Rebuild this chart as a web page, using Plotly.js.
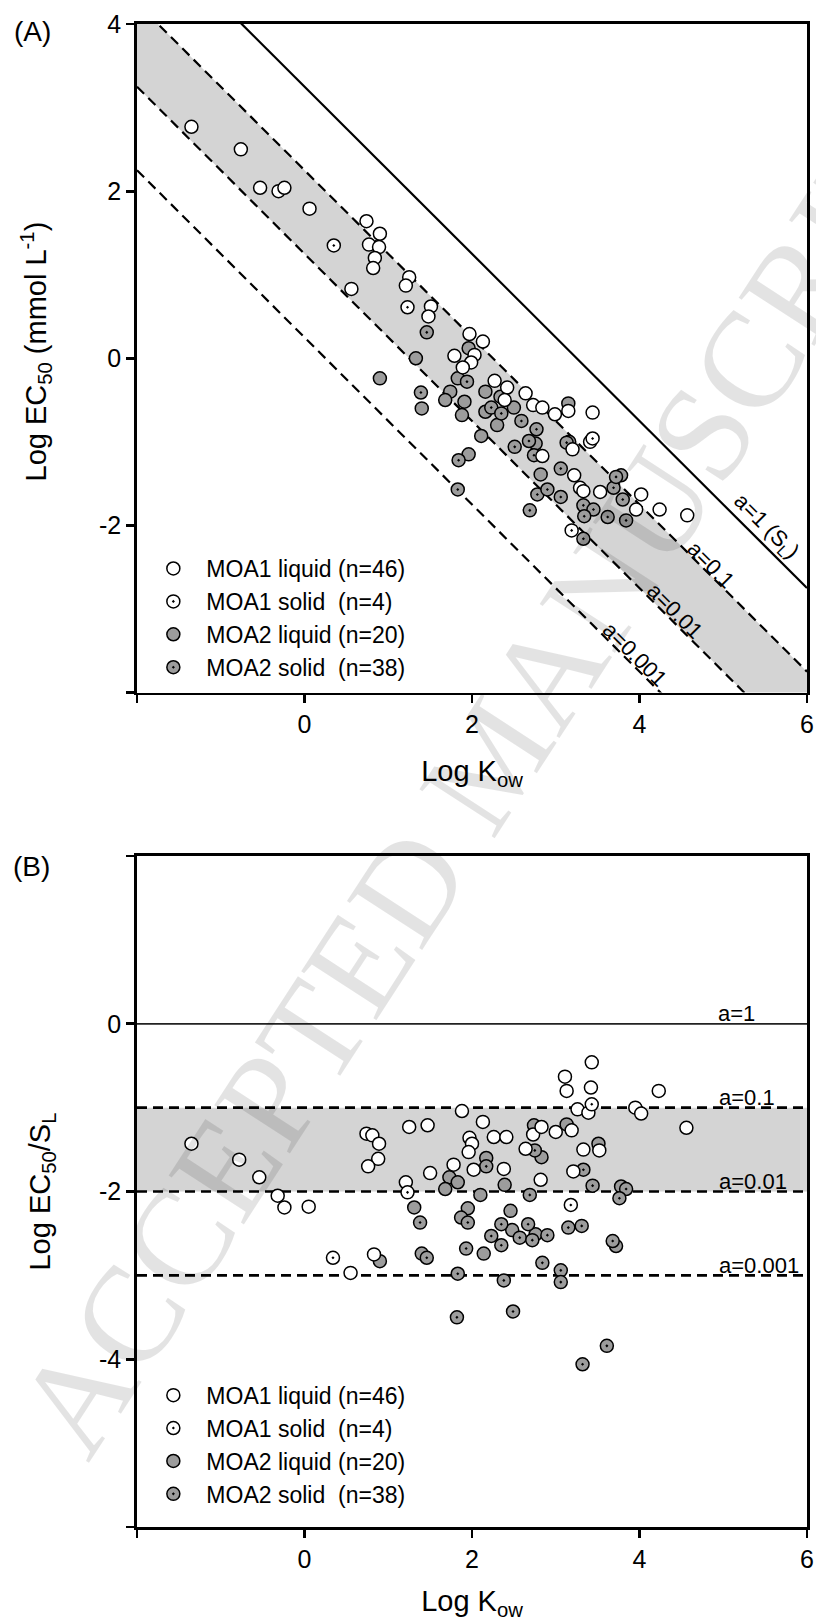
<!DOCTYPE html>
<html>
<head>
<meta charset="utf-8">
<script src="https://cdn.plot.ly/plotly-3.0.1.min.js"></script>
<style>html,body{margin:0;padding:0;background:#fff;}</style>
</head>
<body>
<div id="chart" style="width:816px;height:1621px;"></div>
<script>
// ---------------- Panel A data: Log EC50 (mmol/L) vs Log Kow ----------------
const moa1LiqA_x = [-1.35,-0.76,-0.53,-0.31,-0.24,0.06,0.74,0.90,0.77,0.89,0.84,0.82,0.56,1.25,1.21,1.51,1.48,1.97,2.13,1.79,2.03,1.99,1.89,2.27,2.42,2.39,2.64,2.73,2.84,2.99,3.15,3.44,3.20,3.41,2.84,3.22,3.29,3.33,3.53,4.02,3.96,4.24,4.57];
const moa1LiqA_y = [2.77,2.50,2.04,2.00,2.04,1.79,1.64,1.49,1.36,1.33,1.20,1.08,0.83,0.97,0.87,0.62,0.50,0.29,0.20,0.03,0.04,-0.05,-0.11,-0.27,-0.35,-0.50,-0.42,-0.56,-0.59,-0.67,-0.63,-0.65,-1.09,-1.00,-1.17,-1.40,-1.55,-1.59,-1.60,-1.63,-1.81,-1.81,-1.88];
const moa1SolA_x = [0.35,1.23,3.44,3.19];
const moa1SolA_y = [1.35,0.61,-0.96,-2.06];
const moa2LiqA_x = [1.33,0.90,1.40,1.96,1.83,1.74,1.68,1.91,1.88,2.11,1.96,2.16,2.34,2.16,2.50,2.30,3.15,2.76,2.82,3.16,3.78];
const moa2LiqA_y = [0.00,-0.24,-0.60,0.12,-0.24,-0.40,-0.50,-0.52,-0.68,-0.93,-1.15,-0.40,-0.46,-0.64,-0.59,-0.80,-0.54,-1.02,-1.39,-1.00,-1.40];
const moa2SolA_x = [1.46,1.39,1.94,1.84,1.83,2.23,2.35,2.59,2.77,2.51,2.68,2.74,3.06,2.78,2.90,3.06,2.69,3.13,3.33,3.45,3.34,3.69,3.72,3.80,3.62,3.84,3.33];
const moa2SolA_y = [0.31,-0.41,-0.28,-1.22,-1.57,-0.59,-0.66,-0.75,-0.85,-1.06,-0.99,-1.16,-1.32,-1.63,-1.57,-1.66,-1.82,-1.01,-1.76,-1.81,-1.89,-1.55,-1.42,-1.69,-1.90,-1.94,-2.16];

// ---------------- Panel B data: Log EC50/SL vs Log Kow ----------------
const moa1LiqB_x = [-1.35,-0.78,-0.54,-0.32,-0.24,0.05,0.74,0.81,0.89,0.88,0.76,1.25,1.21,0.55,0.83,1.47,1.88,2.13,2.26,2.41,1.97,2.00,1.96,1.78,1.50,2.02,2.38,2.64,2.73,2.83,3.43,3.11,3.13,3.42,3.26,3.39,4.23,3.95,4.02,4.56,3.00,3.19,3.52,3.33,3.21,2.82];
const moa1LiqB_y = [-1.43,-1.62,-1.83,-2.05,-2.19,-2.18,-1.31,-1.33,-1.43,-1.61,-1.70,-1.23,-1.89,-2.97,-2.75,-1.21,-1.04,-1.17,-1.35,-1.35,-1.36,-1.43,-1.53,-1.68,-1.78,-1.74,-1.73,-1.49,-1.32,-1.23,-0.46,-0.63,-0.80,-0.76,-1.02,-1.06,-0.80,-1.00,-1.07,-1.24,-1.29,-1.27,-1.51,-1.50,-1.76,-1.86];
const moa1SolB_x = [1.23,0.34,3.43,3.18];
const moa1SolB_y = [-2.01,-2.79,-0.96,-2.16];
const moa2LiqB_x = [0.90,2.17,1.73,1.83,1.68,2.39,2.10,1.31,1.95,1.87,2.46,2.48,1.40,2.14,2.74,3.13,3.51,2.83,3.78,3.72,2.76];
const moa2LiqB_y = [-2.83,-1.60,-1.83,-1.89,-1.97,-1.92,-2.04,-2.19,-2.20,-2.31,-2.23,-2.46,-2.74,-2.74,-1.21,-1.20,-1.43,-1.59,-1.94,-2.65,-2.51];
const moa2SolB_x = [2.17,2.69,1.38,1.95,2.35,2.67,2.23,2.35,2.57,2.72,1.46,1.93,1.83,2.38,1.82,2.49,2.75,3.33,3.44,3.84,3.76,2.90,2.84,3.06,3.06,3.15,3.31,3.68,3.61,3.32];
const moa2SolB_y = [-1.70,-2.04,-2.37,-2.37,-2.39,-2.39,-2.53,-2.64,-2.55,-2.58,-2.79,-2.68,-2.98,-3.06,-3.50,-3.43,-1.51,-1.74,-1.93,-1.97,-2.08,-2.52,-2.85,-2.94,-3.08,-2.43,-2.41,-2.59,-3.84,-4.06];

// ---------------- Reference lines, ticks, labels ----------------
const aLevels = [1, 0.1, 0.01, 0.001];
const aLabelsA = ['a=1 (S<sub>L</sub>)', 'a=0.1', 'a=0.01', 'a=0.001'];
const aLabelsB = ['a=1', 'a=0.1', 'a=0.01', 'a=0.001'];
const logSL_intercept = 3.25;   // log SL (mmol/L) = 3.25 - log Kow
const logSL_slope = -1;
const xRange = [-2, 6];
const yRangeA = [-4, 4];
const yRangeB = [-6, 2];
const xTickVals = [0, 2, 4, 6];
const xTickText = ['0', '2', '4', '6'];
const xMinorTicks = [-2];
const yTickValsA = [-2, 0, 2, 4];
const yTickTextA = ['-2', '0', '2', '4'];
const yMinorTicksA = [-4];
const yTickValsB = [-4, -2, 0];
const yTickTextB = ['-4', '-2', '0'];
const yMinorTicksB = [-6, 2];
const labelPosA_x = [5.51, 4.85, 4.42, 3.95];
const labelPosA_y = [-2.02, -2.47, -3.02, -3.54];
const labelPosB_x = [5.16, 5.28, 5.36, 5.43];
const labelPosB_y = [0.12, -0.88, -1.88, -2.88];
const legendLabels = ['MOA1 liquid (n=46)', 'MOA1 solid\u00A0 (n=4)', 'MOA2 liquid (n=20)', 'MOA2 solid\u00A0 (n=38)'];

const FONT = 'Liberation Sans, Arial, sans-serif';
const GREY = '#9c9c9c';
const BAND = '#d4d4d4';

function lineA(a, x) { return Math.log10(a) + logSL_intercept + logSL_slope * x; }

const traces = [];

// Panel A band between a=0.1 and a=0.01
traces.push({
  x: [xRange[0], xRange[1], xRange[1], xRange[0]],
  y: [lineA(aLevels[1], xRange[0]), lineA(aLevels[1], xRange[1]), lineA(aLevels[2], xRange[1]), lineA(aLevels[2], xRange[0])],
  fill: 'toself', fillcolor: BAND, mode: 'lines', line: {width: 0, color: BAND},
  showlegend: false, hoverinfo: 'skip', xaxis: 'x', yaxis: 'y'
});
// Panel B band
traces.push({
  x: [xRange[0], xRange[1], xRange[1], xRange[0]],
  y: [Math.log10(aLevels[1]), Math.log10(aLevels[1]), Math.log10(aLevels[2]), Math.log10(aLevels[2])],
  fill: 'toself', fillcolor: BAND, mode: 'lines', line: {width: 0, color: BAND},
  showlegend: false, hoverinfo: 'skip', xaxis: 'x2', yaxis: 'y2'
});

aLevels.forEach((a, i) => {
  traces.push({
    x: xRange, y: xRange.map(x => lineA(a, x)), mode: 'lines',
    line: {color: '#000', width: 2.2, dash: i === 0 ? 'solid' : '10px,6px'},
    showlegend: false, hoverinfo: 'skip', xaxis: 'x', yaxis: 'y'
  });
  traces.push({
    x: xRange, y: xRange.map(() => Math.log10(a)), mode: 'lines',
    line: {color: i === 0 ? '#222' : '#000', width: i === 0 ? 1.8 : 2.6, dash: i === 0 ? 'solid' : '10px,6px'},
    showlegend: false, hoverinfo: 'skip', xaxis: 'x2', yaxis: 'y2'
  });
});

function pts(x, y, fill, symbol, name, rank, xa, ya, leg) {
  return {
    x: x, y: y, mode: 'markers', name: name, legendrank: rank,
    marker: {size: 13, color: fill, symbol: symbol, line: {color: '#000', width: 1.5}},
    xaxis: xa, yaxis: ya, legend: leg, showlegend: true, cliponaxis: false
  };
}
// draw grey first, white on top
traces.push(pts(moa2LiqA_x, moa2LiqA_y, GREY, 'circle', legendLabels[2], 3, 'x', 'y', 'legend'));
traces.push(pts(moa2SolA_x, moa2SolA_y, GREY, 'circle-dot', legendLabels[3], 4, 'x', 'y', 'legend'));
traces.push(pts(moa1LiqA_x, moa1LiqA_y, '#fff', 'circle', legendLabels[0], 1, 'x', 'y', 'legend'));
traces.push(pts(moa1SolA_x, moa1SolA_y, '#fff', 'circle-dot', legendLabels[1], 2, 'x', 'y', 'legend'));
traces.push(pts(moa2LiqB_x, moa2LiqB_y, GREY, 'circle', legendLabels[2], 3, 'x2', 'y2', 'legend2'));
traces.push(pts(moa2SolB_x, moa2SolB_y, GREY, 'circle-dot', legendLabels[3], 4, 'x2', 'y2', 'legend2'));
traces.push(pts(moa1LiqB_x, moa1LiqB_y, '#fff', 'circle', legendLabels[0], 1, 'x2', 'y2', 'legend2'));
traces.push(pts(moa1SolB_x, moa1SolB_y, '#fff', 'circle-dot', legendLabels[1], 2, 'x2', 'y2', 'legend2'));

const axBase = {
  showline: true, linewidth: 2.8, linecolor: '#000', mirror: true,
  ticks: 'outside', ticklen: 8, tickwidth: 2.8, tickcolor: '#000',
  showgrid: false, zeroline: false,
  tickfont: {family: FONT, size: 25, color: '#000'}
};
function minorTicks(vals) {
  return {tickvals: vals, ticks: 'outside', ticklen: 8, tickwidth: 2.8, tickcolor: '#000', showgrid: false};
}

const annotations = [];
aLabelsA.forEach((t, i) => annotations.push({
  text: t, x: labelPosA_x[i], y: labelPosA_y[i], xref: 'x', yref: 'y',
  showarrow: false, textangle: 45, xanchor: 'center', yanchor: 'middle',
  font: {family: FONT, size: 22, color: '#000'}
}));
aLabelsB.forEach((t, i) => annotations.push({
  text: t, x: labelPosB_x[i], y: labelPosB_y[i], xref: 'x2', yref: 'y2',
  showarrow: false, xanchor: 'center', yanchor: 'middle',
  font: {family: FONT, size: 22, color: '#000'}
}));
annotations.push({text: '(A)', xref: 'paper', yref: 'paper', x: -0.156, y: 0.995, showarrow: false,
  xanchor: 'center', yanchor: 'middle', font: {family: FONT, size: 28, color: '#000'}});
annotations.push({text: '(B)', xref: 'paper', yref: 'paper', x: -0.158, y: 0.4395, showarrow: false,
  xanchor: 'center', yanchor: 'middle', font: {family: FONT, size: 28, color: '#000'}});
// y-axis title of panel A
annotations.push({text: 'Log EC<sub>50</sub> (mmol L<sup>-1</sup>)', xref: 'paper', yref: 'paper', x: -0.151, y: 0.782,
  showarrow: false, textangle: -90, xanchor: 'center', yanchor: 'middle',
  font: {family: FONT, size: 29, color: '#000'}});
// publisher watermark
annotations.push({text: 'ACCEPTED MANUSCRIPT', xref: 'paper', yref: 'paper', x: 0.531, y: 0.512, showarrow: false,
  textangle: -57, xanchor: 'center', yanchor: 'middle',
  font: {family: 'Liberation Serif, Times New Roman, serif', size: 137, color: 'rgba(0,0,0,0.11)'}});

const legendBase = {
  bgcolor: 'rgba(0,0,0,0)', borderwidth: 0, xanchor: 'left', yanchor: 'top',
  font: {family: FONT, size: 23, color: '#000'}, itemwidth: 56, tracegroupgap: 0,
  traceorder: 'normal'
};

const layout = {
  width: 816, height: 1621,
  margin: {l: 137, r: 9, t: 24, b: 94},
  paper_bgcolor: '#fff', plot_bgcolor: 'rgba(0,0,0,0)',
  showlegend: true,
  xaxis: Object.assign({}, axBase, {domain: [0, 1], range: xRange, anchor: 'y', tickvals: xTickVals, ticktext: xTickText,
    minor: minorTicks(xMinorTicks),
    title: {text: 'Log K<sub>ow</sub>', font: {family: FONT, size: 29, color: '#000'}, standoff: 24}}),
  yaxis: Object.assign({}, axBase, {domain: [0.5552, 1], range: yRangeA, anchor: 'x', tickvals: yTickValsA, ticktext: yTickTextA,
    minor: minorTicks(yMinorTicksA)}),
  xaxis2: Object.assign({}, axBase, {domain: [0, 1], range: xRange, anchor: 'y2', tickvals: xTickVals, ticktext: xTickText,
    minor: minorTicks(xMinorTicks),
    title: {text: 'Log K<sub>ow</sub>', font: {family: FONT, size: 29, color: '#000'}, standoff: 24}}),
  yaxis2: Object.assign({}, axBase, {domain: [0, 0.4464], range: yRangeB, anchor: 'x2', tickvals: yTickValsB, ticktext: yTickTextB,
    minor: minorTicks(yMinorTicksB),
    title: {text: 'Log EC<sub>50</sub>/S<sub>L</sub>', font: {family: FONT, size: 29, color: '#000'}, standoff: 40}}),
  legend: Object.assign({}, legendBase, {x: 0.005, y: 0.652}),
  legend2: Object.assign({}, legendBase, {x: 0.005, y: 0.102}),
  annotations: annotations
};

Plotly.newPlot('chart', traces, layout, {displayModeBar: false, staticPlot: true});
</script>
</body>
</html>
